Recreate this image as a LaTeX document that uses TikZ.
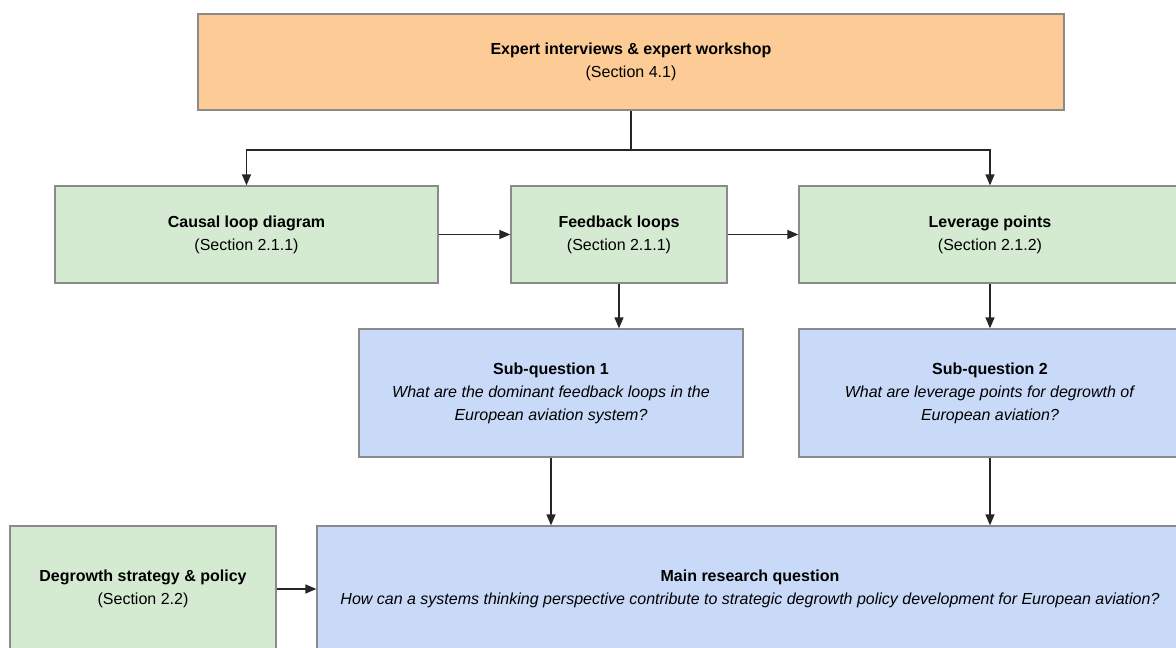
\documentclass[tikz,border=0pt]{standalone}
\usepackage{fontspec}
\setmainfont{Liberation Sans}
\usetikzlibrary{arrows.meta}
\definecolor{orangefill}{HTML}{FCCB96}
\definecolor{greenfill}{HTML}{D4EBD2}
\definecolor{bluefill}{HTML}{C9DAF8}
\definecolor{boxline}{HTML}{8A8A8A}
\tikzset{
  box/.style={draw=boxline, line width=1.3pt, inner sep=0pt, align=center,
    font=\fontsize{16}{23}\selectfont},
  orangebox/.style={box, fill=orangefill},
  greenbox/.style={box, fill=greenfill},
  bluebox/.style={box, fill=bluefill},
  conn/.style={line width=1.3pt, draw=black!85, -{Triangle[length=11pt,width=9pt]}},
  plainconn/.style={line width=1.3pt, draw=black!85},
}
\begin{document}
\begin{tikzpicture}[x=1pt,y=-1pt]
\clip (0,0) rectangle (1176,648);
\fill[white] (0,0) rectangle (1176,648);
\node[orangebox, minimum width=866pt, minimum height=96pt] (top) at (631,62)
  {\textbf{Expert interviews \& expert workshop}\\(Section 4.1)};
\node[greenbox, minimum width=383pt, minimum height=97pt] (cld) at (246.5,234.5)
  {\textbf{Causal loop diagram}\\(Section 2.1.1)};
\node[greenbox, minimum width=216pt, minimum height=97pt] (fb) at (619,234.5)
  {\textbf{Feedback loops}\\(Section 2.1.1)};
\node[greenbox, minimum width=382pt, minimum height=97pt] (lp) at (990,234.5)
  {\textbf{Leverage points}\\(Section 2.1.2)};
\node[bluebox, minimum width=384pt, minimum height=128pt] (sq1) at (551,393)
  {\textbf{Sub-question 1}\\\textit{What are the dominant feedback loops in the}\\\textit{European aviation system?}};
\node[bluebox, minimum width=382pt, minimum height=128pt] (sq2) at (990,393)
  {\textbf{Sub-question 2}\\\textit{What are leverage points for degrowth of}\\\textit{European aviation?}};
\node[greenbox, minimum width=266pt, minimum height=126pt] (dg) at (143,589)
  {\textbf{Degrowth strategy \& policy}\\(Section 2.2)};
\node[bluebox, minimum width=866pt, minimum height=126pt] (mrq) at (750,589)
  {\textbf{Main research question}\\\textit{How can a systems thinking perspective contribute to strategic degrowth policy development for European aviation?}};
\coordinate (j) at (top.south |- 0,150);
\draw[plainconn] (top.south) -- (j);
\draw[conn] (j) -| (cld.north);
\draw[conn] (j) -| (lp.north);
\draw[conn] (cld.east) -- (fb.west);
\draw[conn] (fb.east) -- (lp.west);
\draw[conn] (fb.south) -- (fb.south |- sq1.north);
\draw[conn] (lp.south) -- (sq2.north);
\draw[conn] (sq1.south) -- (sq1.south |- mrq.north);
\draw[conn] (sq2.south) -- (sq2.south |- mrq.north);
\draw[conn] (dg.east) -- (mrq.west);
\end{tikzpicture}
\end{document}
